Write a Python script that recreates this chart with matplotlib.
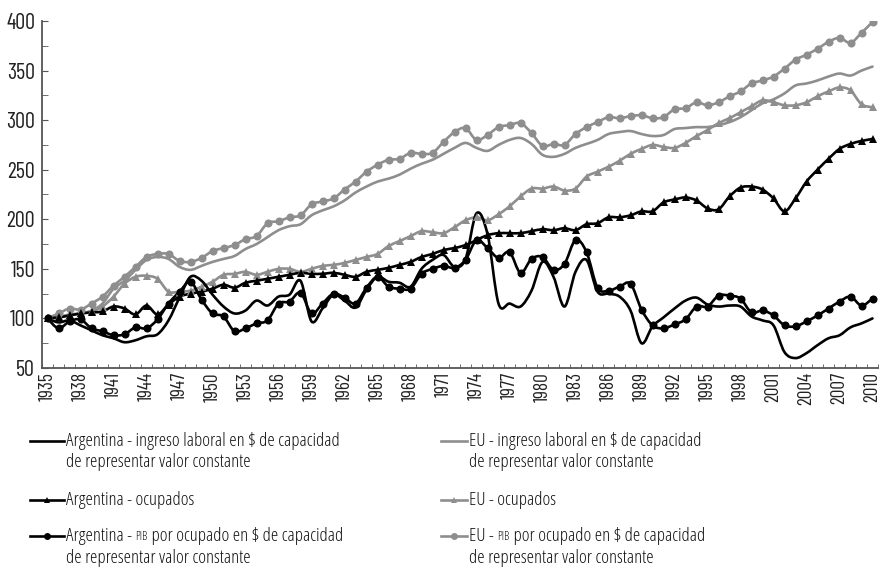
import numpy as np
import matplotlib
matplotlib.use('Agg')
import matplotlib.pyplot as plt
from matplotlib.path import Path
from matplotlib.patches import PathPatch
from matplotlib.lines import Line2D

plt.rcParams['font.family'] = ['Barlow Condensed', 'DejaVu Sans']

# datos (1935 = 100)
years = list(range(1935, 2011))

arg_ingreso = [100, 96, 98, 93, 88, 83, 80, 76, 78, 82,
               84, 98, 121, 142, 138, 124, 112, 105, 108, 118,
               113, 122, 124, 138, 97, 110, 124, 118, 111, 129,
               142, 137, 136, 132, 150, 159, 164, 152, 160, 206,
               185, 115, 115, 112, 128, 157, 142, 112, 147, 159,
               127, 125, 122, 108, 75, 92, 101, 110, 118, 121,
               114, 112, 113, 112, 102, 98, 93, 66, 60, 65,
               73, 80, 83, 91, 95, 100]

arg_ocupados = [100, 101, 103, 105, 106, 107, 112, 110, 104, 113,
                104, 114, 122, 125, 127, 130, 134, 131, 136, 138,
                140, 142, 144, 146, 145, 145, 146, 144, 142, 147,
                149, 151, 154, 157, 162, 165, 169, 171, 174, 179,
                184, 186, 186, 186, 188, 190, 189, 191, 189, 195,
                196, 202, 202, 204, 208, 208, 217, 220, 222, 219,
                211, 210, 223, 232, 233, 230, 221, 208, 221, 238,
                250, 261, 271, 276, 279, 281]

arg_pib = [100, 90, 97, 99, 90, 87, 83, 84, 91, 90,
           99, 115, 127, 137, 119, 105, 102, 87, 90, 95,
           98, 115, 117, 126, 105, 115, 125, 121, 115, 131,
           142, 132, 130, 130, 145, 150, 153, 151, 159, 179,
           171, 161, 167, 146, 160, 162, 149, 155, 179, 167,
           131, 128, 132, 135, 109, 93, 90, 94, 99, 112,
           112, 123, 123, 120, 106, 108, 103, 93, 92, 97,
           103, 110, 117, 122, 113, 120]

eu_ingreso = [100, 101, 104, 105, 108, 115, 130, 138, 149, 159,
              162, 160, 152, 149, 153, 157, 160, 163, 170, 175,
              182, 189, 193, 195, 204, 209, 213, 219, 227, 233,
              238, 241, 245, 251, 256, 260, 266, 272, 277, 272,
              269, 275, 280, 282, 276, 265, 263, 266, 272, 276,
              280, 286, 288, 289, 286, 284, 285, 291, 292, 293,
              293, 295, 298, 303, 310, 317, 321, 327, 335, 337,
              340, 344, 347, 345, 350, 354]

eu_ocupados = [100, 102, 103, 105, 107, 112, 122, 135, 142, 143,
               140, 127, 127, 128, 132, 137, 144, 145, 147, 144,
               147, 150, 150, 147, 150, 153, 154, 156, 159, 162,
               165, 173, 178, 183, 188, 187, 186, 192, 199, 202,
               199, 205, 213, 223, 231, 231, 233, 229, 231, 243,
               248, 253, 259, 266, 271, 275, 273, 272, 277, 284,
               290, 297, 302, 308, 314, 320, 318, 315, 315, 318,
               324, 329, 333, 330, 316, 313]

eu_pib = [100, 105, 110, 109, 115, 122, 133, 142, 152, 162,
          165, 165, 158, 157, 161, 168, 171, 174, 180, 183,
          196, 198, 202, 204, 215, 218, 221, 230, 238, 248,
          255, 260, 261, 267, 266, 267, 278, 288, 292, 280,
          285, 293, 295, 297, 287, 274, 276, 275, 286, 293,
          298, 303, 302, 304, 305, 302, 303, 311, 312, 318,
          315, 318, 324, 329, 337, 340, 344, 352, 361, 366,
          372, 379, 383, 378, 388, 399]

BLACK = '#000000'
GRAY = '#8e8e8e'
AXC = '#555555'
LEG_FONT = dict(family=['Open Sans', 'DejaVu Sans'], stretch='condensed')


def smooth_path(xs, ys):
    # curva suavizada (bezier tipo planilla de calculo)
    pts = np.column_stack([xs, ys]).astype(float)
    ext = np.vstack([pts[0], pts, pts[-1]])
    verts = [pts[0]]
    codes = [Path.MOVETO]
    for k in range(len(pts) - 1):
        p0, p1, p2, p3 = ext[k], ext[k + 1], ext[k + 2], ext[k + 3]
        verts += [p1 + (p2 - p0) / 6, p2 - (p3 - p1) / 6, p2]
        codes += [Path.CURVE4] * 3
    return Path(verts, codes)


fig = plt.figure(figsize=(8.8, 5.82), dpi=100)
ax = fig.add_axes([42 / 880, 1 - 368 / 582, 836 / 880, 347 / 582])

x = np.arange(len(years))


def serie(vals, color, marker=None, ms=5.5):
    ax.add_patch(PathPatch(smooth_path(x, vals), fill=False, edgecolor=color,
                           lw=1.9, joinstyle='round', capstyle='round'))
    if marker:
        ax.plot(x, vals, linestyle='none', marker=marker, color=color, ms=ms,
                markeredgewidth=0)


serie(eu_ingreso, GRAY)
serie(eu_ocupados, GRAY, '^', 5.5)
serie(eu_pib, GRAY, 'o', 5.8)
serie(arg_ingreso, BLACK)
serie(arg_ocupados, BLACK, '^', 5.5)
serie(arg_pib, BLACK, 'o', 5.8)

ax.set_xlim(-0.5, len(years) - 0.5)
ax.set_ylim(50, 400)
ax.set_yticks(np.arange(50, 401, 50))
ax.set_yticks(np.arange(75, 400, 50), minor=True)
ax.set_xticks(x[::3])
ax.set_xticklabels([str(y) for y in years[::3]], rotation=90)
ax.set_xticks(np.arange(-0.5, len(years), 1), minor=True)
ax.tick_params(axis='x', which='major', length=0, pad=3, labelsize=14, colors='#222222')
ax.tick_params(axis='x', which='minor', direction='in', length=3, color=AXC)
ax.tick_params(axis='y', which='both', direction='in', length=4, color=AXC)
ax.tick_params(axis='y', which='major', labelsize=16, pad=5, labelcolor='#222222')
for s in ['top', 'right']:
    ax.spines[s].set_visible(False)
for s in ['left', 'bottom']:
    ax.spines[s].set_color(AXC)
    ax.spines[s].set_linewidth(1.3)

# leyenda manual en dos columnas
renderer = fig.canvas.get_renderer()
FS = 13.5


def fx(px):
    return px / 880


def fy(py):
    return 1 - py / 582


def legend_item(x0, x1, y, color, marker, partes, y2=None, linea2=None):
    fig.add_artist(Line2D([fx(x0), fx((x0 + x1) / 2), fx(x1)], [fy(y)] * 3,
                          color=color, lw=1.9, marker=marker,
                          markevery=[1] if marker else None,
                          ms=5, markeredgewidth=0))
    xt = x1 + 2
    for texto, size in partes:
        t = fig.text(fx(xt), fy(y), texto, fontsize=size, va='center', ha='left',
                     color='#111111', parse_math=False, **LEG_FONT)
        bb = t.get_window_extent(renderer)
        xt = bb.x1
    if linea2:
        fig.text(fx(x1 + 2), fy(y2), linea2, fontsize=FS, va='center', ha='left',
                 color='#111111', parse_math=False, **LEG_FONT)


seg = 'de representar valor constante'
legend_item(30, 64, 441, BLACK, None,
            [('Argentina - ingreso laboral en $ de capacidad', FS)], 462, seg)
legend_item(441, 467, 441, GRAY, None,
            [('EU - ingreso laboral en $ de capacidad', FS)], 462, seg)
legend_item(30, 64, 500, BLACK, '^', [('Argentina - ocupados', FS)])
legend_item(441, 467, 500, GRAY, '^', [('EU - ocupados', FS)])
legend_item(30, 64, 536, BLACK, 'o',
            [('Argentina - ', FS), ('PIB', FS * 0.62), (' por ocupado en $ de capacidad', FS)],
            558, seg)
legend_item(441, 467, 536, GRAY, 'o',
            [('EU - ', FS), ('PIB', FS * 0.62), (' por ocupado en $ de capacidad', FS)],
            558, seg)

fig.savefig('out.png', dpi=100)
